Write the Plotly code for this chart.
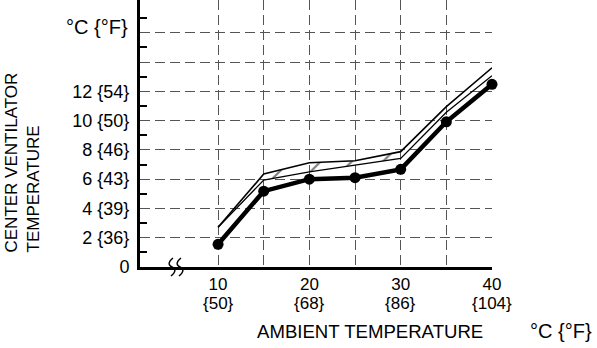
import plotly.graph_objects as go

# ---- data ----
ambient_c = [10, 15, 20, 25, 30, 35, 40]
center_temp = [1.55, 5.18, 6.0, 6.1, 6.67, 9.92, 12.48]
band_upper = [2.71, 6.35, 7.12, 7.26, 7.88, 10.95, 13.61]
band_lower = [2.71, 5.94, 6.5, 6.97, 7.42, 10.57, 13.07]

x_tickvals = [10, 15, 20, 25, 30, 35, 40]
x_ticktext = ["10", "", "20", "", "30", "", "40"]
x_f_pos = [10, 20, 30, 40]
x_f_text = ["{50}", "{68}", "{86}", "{104}"]

y_tickvals = [0, 2, 4, 6, 8, 10, 12, 14, 16]
y_ticktext = ["0", "2 {36}", "4 {39}", "6 {43}", "8 {46}", "10 {50}", "12 {54}", "", ""]
y_minor = [1, 3, 5, 7, 9, 11, 13, 15, 17]

FONT = "Liberation Sans, Arial, Helvetica, sans-serif"
FS = 17
W, H = 597, 348
ML, MR, MT, MB = 140, 105, 0, 81
PW = W - ML - MR
PH = H - MT - MB

fig = go.Figure()

fig.add_trace(go.Scatter(
    x=ambient_c, y=band_lower, mode="lines",
    line=dict(color="black", width=1.3), showlegend=False, hoverinfo="skip"))
fig.add_trace(go.Scatter(
    x=ambient_c, y=band_upper, mode="lines", fill="tonexty",
    fillcolor="rgba(0,0,0,0)",
    fillpattern=dict(shape="/", size=22, solidity=0.1, fgcolor="black",
                     bgcolor="rgba(0,0,0,0)"),
    line=dict(color="black", width=1.6), showlegend=False, hoverinfo="skip"))
fig.add_trace(go.Scatter(
    x=ambient_c, y=center_temp, mode="lines+markers",
    line=dict(color="black", width=4.5),
    marker=dict(color="black", size=11),
    cliponaxis=False, showlegend=False))

grid_style = dict(showgrid=True, gridcolor="#555555", griddash="10px,5px", gridwidth=1.2)

fig.update_xaxes(
    range=[1.45, 40], tickmode="array", tickvals=x_tickvals, ticktext=x_ticktext,
    ticks="", showline=True, linewidth=3, linecolor="black", zeroline=False,
    tickfont=dict(family=FONT, size=FS, color="black"), ticklabelstandoff=0,
    **grid_style)
fig.update_yaxes(
    range=[0, 18.24], tickmode="array", tickvals=y_tickvals, ticktext=y_ticktext,
    ticks="", showline=True, linewidth=3, linecolor="black", zeroline=False,
    tickfont=dict(family=FONT, size=18, color="black"), ticklabelstandoff=4,
    minor=dict(tickmode="array", tickvals=y_minor, ticks="inside", ticklen=7,
               tickwidth=1.5, tickcolor="black", showgrid=False),
    **grid_style)

ann = []
for xp, t in zip(x_f_pos, x_f_text):
    ann.append(dict(x=xp, xref="x", y=0, yref="paper", yanchor="middle",
                    xanchor="center", yshift=-36, text=t, showarrow=False,
                    font=dict(family=FONT, size=FS, color="black")))

def px_x(p):
    return (p - ML) / PW

def px_y(p):
    return (MT + PH - p) / PH

ann.append(dict(x=px_x(369.5), xref="paper", y=px_y(331), yref="paper",
                xanchor="center", yanchor="middle", text="AMBIENT TEMPERATURE",
                showarrow=False, font=dict(family=FONT, size=18.6, color="black")))
ann.append(dict(x=px_x(561), xref="paper", y=px_y(331), yref="paper",
                xanchor="center", yanchor="middle", text="°C {°F}",
                showarrow=False, font=dict(family=FONT, size=20, color="black")))
ann.append(dict(x=px_x(96.7), xref="paper", y=px_y(26.5), yref="paper",
                xanchor="center", yanchor="middle", text="°C {°F}",
                showarrow=False, font=dict(family=FONT, size=20, color="black")))
ann.append(dict(x=px_x(21.5), xref="paper", y=px_y(255), yref="paper",
                xanchor="center", yanchor="bottom", textangle=-90, align="left",
                text="CENTER VENTILATOR<br>TEMPERATURE",
                showarrow=False, font=dict(family=FONT, size=FS, color="black")))

# axis-break squiggles
shapes = []
for xa in [px_x(172), px_x(180)]:
    shapes.append(dict(type="path", xref="paper", yref="paper",
                       xsizemode="pixel", ysizemode="pixel",
                       xanchor=xa, yanchor=0,
                       path="M 1,9 C -4,5 -4,2 0,0 C 4,-2 4,-5 -1,-9",
                       line=dict(color="black", width=1.4)))

fig.update_layout(
    width=W, height=H, margin=dict(l=ML, r=MR, t=MT, b=MB),
    paper_bgcolor="white", plot_bgcolor="white",
    annotations=ann, shapes=shapes, showlegend=False,
    font=dict(family=FONT, color="black"))

fig.write_html("out.html")
